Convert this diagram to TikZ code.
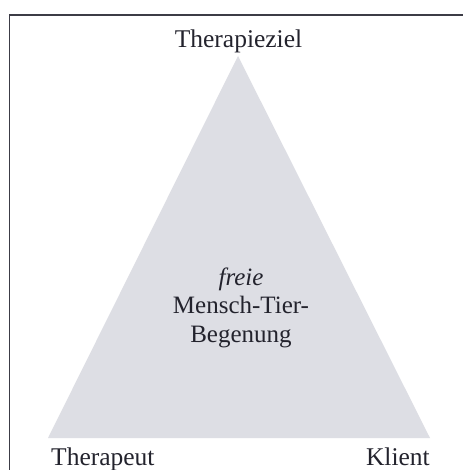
\documentclass[tikz,border=0pt]{standalone}
\usepackage{fontspec}
\setmainfont{Liberation Serif}
\definecolor{trifill}{RGB}{221,222,228}
\definecolor{framecol}{RGB}{60,60,70}
\definecolor{textcol}{RGB}{35,35,45}
\begin{document}
\begin{tikzpicture}[x=1pt,y=-1pt,
  lbl/.style={font=\fontsize{25.5}{30}\selectfont,text=textcol,inner sep=0pt},
  mid/.style={font=\fontsize{25}{28.5}\selectfont,text=textcol,align=center,inner sep=0pt}]
\useasboundingbox (0,0) rectangle (462,470);
\fill[white] (0,0) rectangle (462,470);
\draw[framecol,line width=1.6pt] (9.5,480) -- (9.5,15) -- (480,15);
\coordinate (apex) at (238,56);
\coordinate (bl) at (48,438);
\coordinate (br) at (430,438);
\fill[trifill] (apex) -- (br) -- (bl) -- cycle;
\node[lbl,anchor=base] (ziel) at (238.5,48) {Therapieziel};
\node[lbl,anchor=base west] (ther) at (51,465) {Therapeut};
\node[lbl,anchor=base east] (kli) at (430,465) {Klient};
\node[mid,anchor=base] (center) at (241,342) {\textit{freie}\\Mensch-Tier-\\Begenung};
\end{tikzpicture}
\end{document}
